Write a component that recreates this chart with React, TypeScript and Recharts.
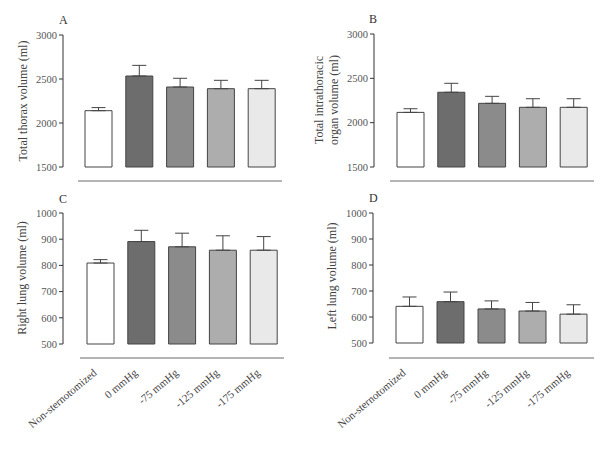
import { BarChart, Bar, XAxis, YAxis, ErrorBar, Cell } from "recharts";

const groups = ["Non-sternotomized", "0 mmHg", "-75 mmHg", "-125 mmHg", "-175 mmHg"];

const thoraxMean = [2140, 2534, 2409, 2390, 2390];
const thoraxSem = [35, 121, 99, 95, 95];
const organMean = [2116, 2343, 2218, 2173, 2173];
const organSem = [41, 101, 79, 97, 97];
const rightLungMean = [809, 891, 871, 858, 858];
const rightLungSem = [13, 43, 52, 55, 52];
const leftLungMean = [641, 659, 631, 623, 611];
const leftLungSem = [36, 37, 31, 33, 36];

const thoraxTicks = [1500, 2000, 2500, 3000];
const lungTicks = [500, 600, 700, 800, 900, 1000];

const fills = ["#ffffff", "#6d6d6d", "#8b8b8b", "#adadad", "#e9e9e9"];
const serif = "'Liberation Serif', 'Times New Roman', serif";

const AngledTick = (props: any) => {
  const { x, y, payload } = props;
  return (
    <g transform={`translate(${x - 3},${y + 14})`}>
      <text
        x={0}
        y={0}
        textAnchor="end"
        transform="rotate(-40)"
        fontSize={11}
        fontFamily={serif}
        fill="#444"
      >
        {payload.value}
      </text>
    </g>
  );
};

type PanelProps = {
  letter: string;
  title: string[];
  means: number[];
  sems: number[];
  ticks: number[];
  left: number;
  top: number;
  width: number;
  height: number;
  axisX: number;
  lineLeft: number;
  lineRight: number;
  yTop: number;
  yBottom: number;
  lineY: number;
  showNames: boolean;
  titleX: number;
  titleY: number;
  letterX: number;
  letterY: number;
};

function Panel(p: PanelProps) {
  const data = groups.map((name, i) => ({ name, mean: p.means[i], err: [0, p.sems[i]] }));
  const yAxisW = 40;
  const gap = p.lineY - p.yBottom;
  const lineAxisH = p.showNames ? 90 : 5;
  const margin = {
    top: p.yTop,
    left: p.axisX - yAxisW,
    right: p.width - p.lineRight,
    bottom: p.height - p.lineY - lineAxisH,
  };

  return (
    <div style={{ position: "absolute", left: p.left, top: p.top, width: p.width, height: p.height }}>
      <BarChart width={p.width} height={p.height} data={data} margin={margin} barSize={27}>
        <YAxis yAxisId="spacer" width={p.lineLeft - p.axisX} domain={[0, 1]} axisLine={false} tickLine={false} tick={false} />
        <YAxis
          yAxisId="val"
          width={yAxisW}
          domain={[p.ticks[0], p.ticks[p.ticks.length - 1]]}
          ticks={p.ticks}
          interval={0}
          stroke="#333"
          tickSize={4}
          tickMargin={2}
          tick={{ fontSize: 10.5, fontFamily: serif, fill: "#555" }}
        />
        <XAxis xAxisId="bars" dataKey="name" height={gap} axisLine={false} tickLine={false} tick={false} />
        <XAxis
          xAxisId="line"
          dataKey="name"
          height={lineAxisH}
          stroke="#6a6a6a"
          tickLine={false}
          tickSize={0}
          interval={0}
          tick={p.showNames ? <AngledTick /> : false}
        />
        <Bar dataKey="mean" xAxisId="bars" yAxisId="val" stroke="#444" strokeWidth={1} isAnimationActive={false}>
          {data.map((d, i) => (
            <Cell key={d.name} fill={fills[i]} />
          ))}
          <ErrorBar dataKey="err" width={7} stroke="#444" strokeWidth={1} direction="y" isAnimationActive={false} />
        </Bar>
      </BarChart>
      <div
        style={{
          position: "absolute",
          left: p.letterX,
          top: p.letterY,
          fontFamily: serif,
          fontSize: 12,
          color: "#333",
          lineHeight: "12px",
        }}
      >
        {p.letter}
      </div>
      <div
        style={{
          position: "absolute",
          left: p.titleX,
          top: p.titleY,
          transform: "translate(-50%, -50%) rotate(-90deg)",
          whiteSpace: "nowrap",
          textAlign: "center",
          fontFamily: serif,
          fontSize: 12,
          lineHeight: "15px",
          color: "#444",
        }}
      >
        {p.title.map((t) => (
          <div key={t}>{t}</div>
        ))}
      </div>
    </div>
  );
}

export default function App() {
  return (
    <div style={{ position: "absolute", left: 0, top: 0, width: 609, height: 452, background: "#fff" }}>
      <Panel
        letter="A"
        title={["Total thorax volume (ml)"]}
        means={thoraxMean}
        sems={thoraxSem}
        ticks={thoraxTicks}
        left={0}
        top={0}
        width={300}
        height={190}
        axisX={63}
        lineLeft={78}
        lineRight={282}
        yTop={35}
        yBottom={167}
        lineY={181}
        showNames={false}
        titleX={23}
        titleY={101}
        letterX={59}
        letterY={14}
      />
      <Panel
        letter="B"
        title={["Total intrathoracic", "organ volume (ml)"]}
        means={organMean}
        sems={organSem}
        ticks={thoraxTicks}
        left={300}
        top={0}
        width={309}
        height={190}
        axisX={74}
        lineLeft={90}
        lineRight={294}
        yTop={34}
        yBottom={167}
        lineY={181}
        showNames={false}
        titleX={27}
        titleY={100}
        letterX={69}
        letterY={13}
      />
      <Panel
        letter="C"
        title={["Right lung volume (ml)"]}
        means={rightLungMean}
        sems={rightLungSem}
        ticks={lungTicks}
        left={0}
        top={190}
        width={300}
        height={262}
        axisX={63}
        lineLeft={80}
        lineRight={284}
        yTop={23}
        yBottom={154}
        lineY={168}
        showNames={true}
        titleX={22}
        titleY={88}
        letterX={59}
        letterY={3}
      />
      <Panel
        letter="D"
        title={["Left lung volume (ml)"]}
        means={leftLungMean}
        sems={leftLungSem}
        ticks={lungTicks}
        left={300}
        top={190}
        width={309}
        height={262}
        axisX={73}
        lineLeft={89}
        lineRight={294}
        yTop={23}
        yBottom={153}
        lineY={168}
        showNames={true}
        titleX={32}
        titleY={86}
        letterX={69}
        letterY={2}
      />
    </div>
  );
}
